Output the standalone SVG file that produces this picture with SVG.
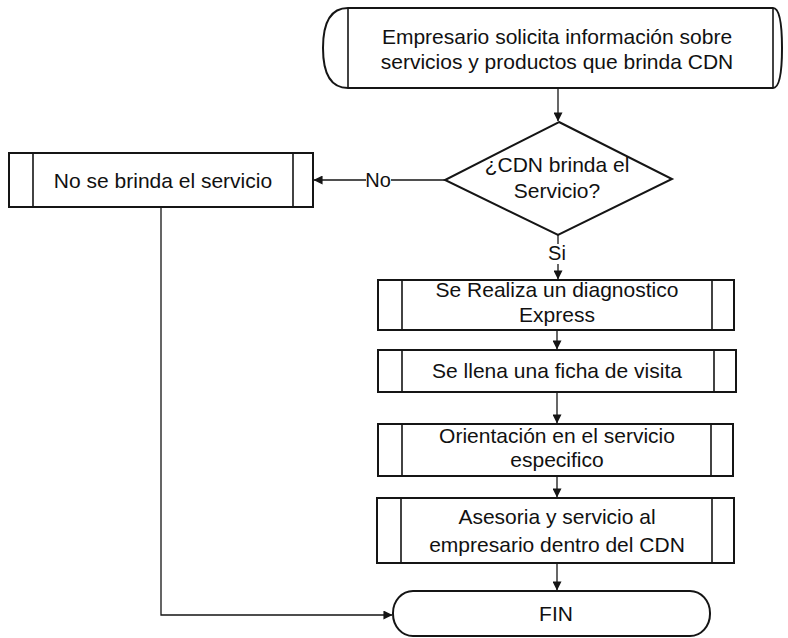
<svg xmlns="http://www.w3.org/2000/svg" width="788" height="638" viewBox="0 0 788 638">
  <style>
    .shape { fill: #ffffff; stroke: #151515; stroke-width: 2; }
    .bar { fill: none; stroke: #151515; stroke-width: 1.6; }
    .edge { fill: none; stroke: #151515; stroke-width: 1.3; }
    .txt { font-family: "Liberation Sans", Arial, sans-serif; font-size: 21px; fill: #111111; text-anchor: middle; }
    .lbl { font-family: "Liberation Sans", Arial, sans-serif; font-size: 20px; fill: #111111; text-anchor: middle; }
  </style>
  <defs>
    <marker id="arrow" viewBox="0 0 10 10" refX="9.5" refY="5" markerWidth="9" markerHeight="9" markerUnits="userSpaceOnUse" orient="auto">
      <path d="M0,0 L10,5 L0,10 Z" fill="#151515"/>
    </marker>
  </defs>

  <rect width="788" height="638" fill="#ffffff"/>

  <!-- connectors -->
  <g id="connectors">
    <path class="edge" d="M558,88 V121" marker-end="url(#arrow)"/>
    <path class="edge" d="M445,180 H314" marker-end="url(#arrow)"/>
    <path class="edge" d="M558,235 V279" marker-end="url(#arrow)"/>
    <path class="edge" d="M557,330 V349" marker-end="url(#arrow)"/>
    <path class="edge" d="M557,392 V423" marker-end="url(#arrow)"/>
    <path class="edge" d="M557,476 V497" marker-end="url(#arrow)"/>
    <path class="edge" d="M557,563 V590" marker-end="url(#arrow)"/>
    <path class="edge" d="M161,207 V615 H392" marker-end="url(#arrow)"/>
    <!-- edge labels -->
    <rect x="366" y="170" width="25" height="20" fill="#ffffff"/>
    <text class="lbl" x="378" y="187">No</text>
    <rect x="548" y="244" width="20" height="20" fill="#ffffff"/>
    <text class="lbl" x="557" y="260">Si</text>
  </g>

  <!-- start terminator -->
  <g id="inicio">
    <path class="shape" d="M348,8 H773 Q782,8 782,48 Q782,88 773,88 H348 Q323,88 323,48 Q323,8 348,8 Z"/>
    <path class="bar" d="M348,8 V88 M773,8 V88"/>
    <text class="txt" x="557" y="44">Empresario solicita información sobre</text>
    <text class="txt" x="557" y="69">servicios y productos que brinda CDN</text>
  </g>

  <!-- decision -->
  <g id="decision">
    <path class="shape" d="M559,122 L672,179 L558,235 L445,180 Z"/>
    <text class="txt" x="557" y="172">¿CDN brinda el</text>
    <text class="txt" x="557" y="198">Servicio?</text>
  </g>

  <!-- refusal branch -->
  <g id="no-servicio">
    <rect class="shape" x="9" y="153" width="304" height="54"/>
    <path class="bar" d="M33,153 V207 M293,153 V207"/>
    <text class="txt" x="163" y="188">No se brinda el servicio</text>
  </g>

  <!-- process steps -->
  <g id="diagnostico">
    <rect class="shape" x="378" y="280" width="356" height="50"/>
    <path class="bar" d="M402,280 V330 M712,280 V330"/>
    <text class="txt" x="557" y="297">Se Realiza un diagnostico</text>
    <text class="txt" x="557" y="322">Express</text>
  </g>

  <g id="ficha">
    <rect class="shape" x="378" y="350" width="358" height="42"/>
    <path class="bar" d="M402,350 V392 M714,350 V392"/>
    <text class="txt" x="557" y="378">Se llena una ficha de visita</text>
  </g>

  <g id="orientacion">
    <rect class="shape" x="378" y="424" width="355" height="52"/>
    <path class="bar" d="M402,424 V476 M711,424 V476"/>
    <text class="txt" x="557" y="443">Orientación en el servicio</text>
    <text class="txt" x="557" y="467">especifico</text>
  </g>

  <g id="asesoria">
    <rect class="shape" x="377" y="498" width="357" height="65"/>
    <path class="bar" d="M401,498 V563 M712,498 V563"/>
    <text class="txt" x="557" y="524">Asesoria y servicio al</text>
    <text class="txt" x="557" y="552">empresario dentro del CDN</text>
  </g>

  <!-- end terminator -->
  <g id="fin">
    <rect class="shape" x="393" y="591" width="317" height="45" rx="20" ry="22"/>
    <text class="txt" x="556" y="621">FIN</text>
  </g>
</svg>
